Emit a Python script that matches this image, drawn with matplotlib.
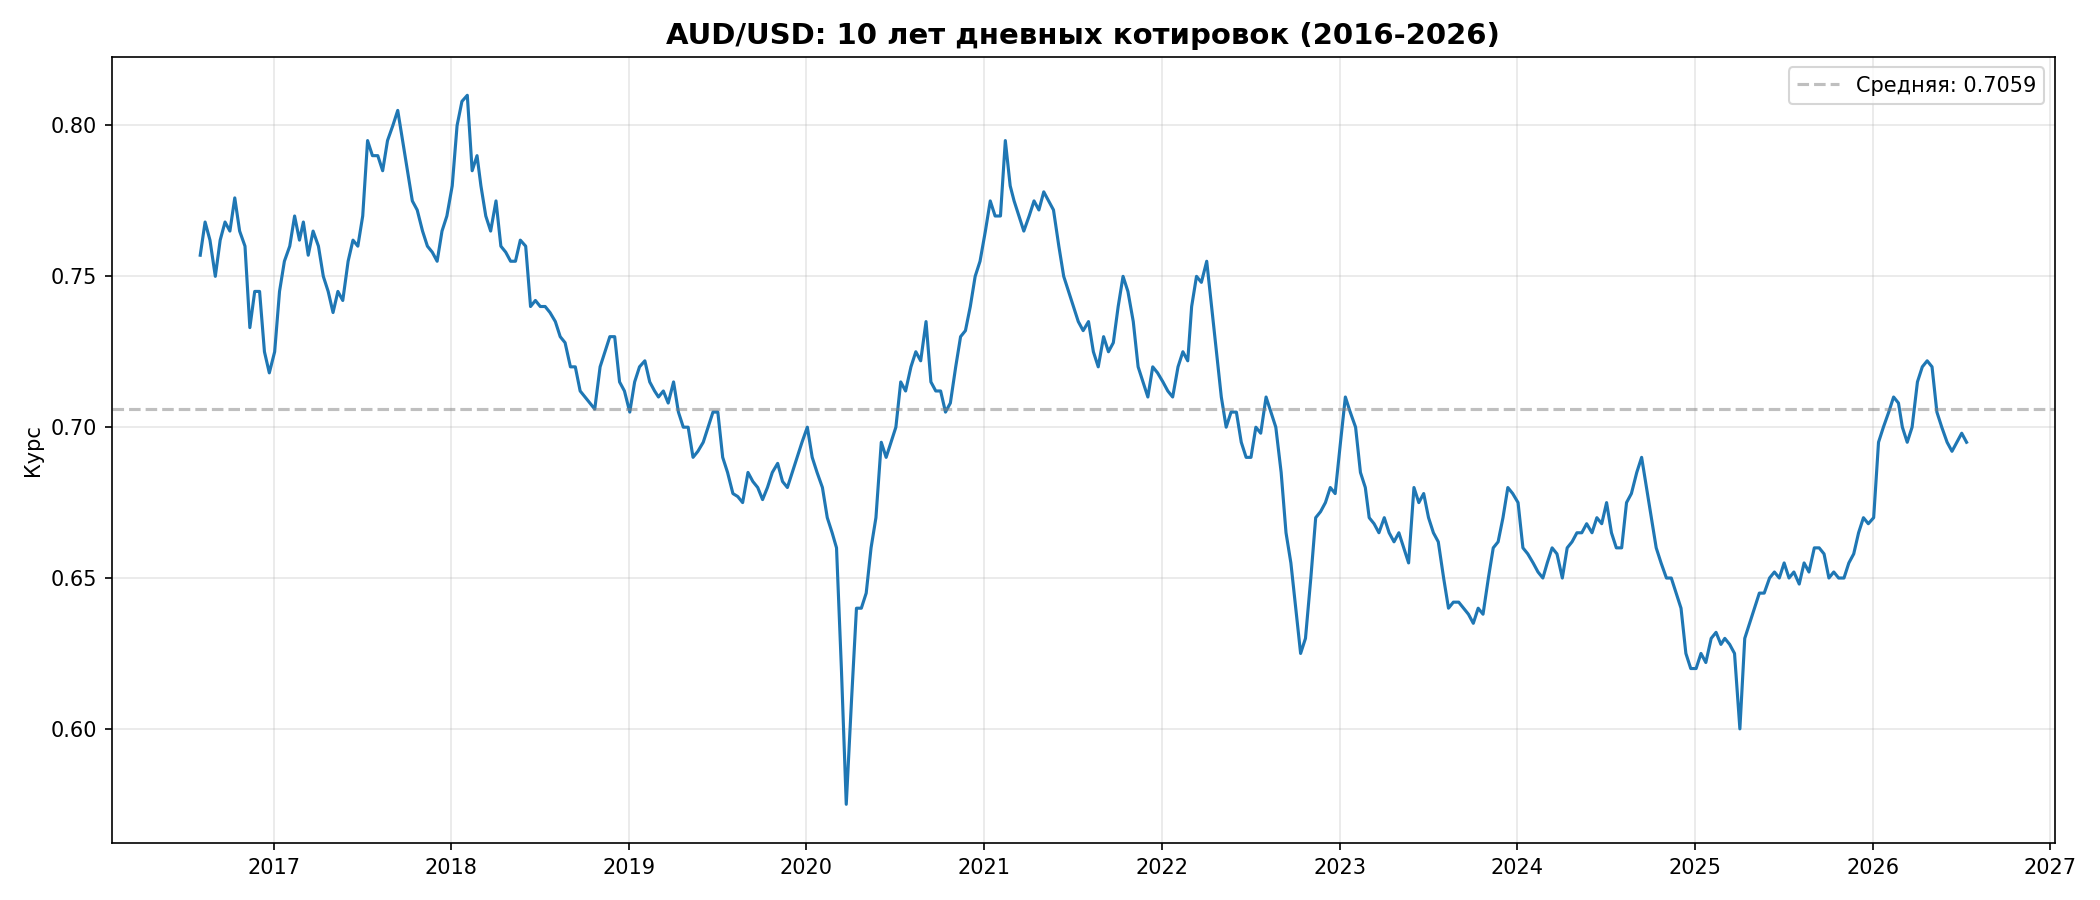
import matplotlib
matplotlib.use("Agg")
import matplotlib.pyplot as plt
import matplotlib.dates as mdates
import pandas as pd

months = ["2016-08","2016-09","2016-10","2016-11","2016-12",
          "2017-01","2017-02","2017-03","2017-04","2017-05","2017-06","2017-07","2017-08","2017-09","2017-10","2017-11","2017-12",
          "2018-01","2018-02","2018-03","2018-04","2018-05","2018-06","2018-07","2018-08","2018-09","2018-10","2018-11","2018-12",
          "2019-01","2019-02","2019-03","2019-04","2019-05","2019-06","2019-07","2019-08","2019-09","2019-10","2019-11","2019-12",
          "2020-01","2020-02","2020-03","2020-04","2020-05","2020-06","2020-07","2020-08","2020-09","2020-10","2020-11","2020-12",
          "2021-01","2021-02","2021-03","2021-04","2021-05","2021-06","2021-07","2021-08","2021-09","2021-10","2021-11","2021-12",
          "2022-01","2022-02","2022-03","2022-04","2022-05","2022-06","2022-07","2022-08","2022-09","2022-10","2022-11","2022-12",
          "2023-01","2023-02","2023-03","2023-04","2023-05","2023-06","2023-07","2023-08","2023-09","2023-10","2023-11","2023-12",
          "2024-01","2024-02","2024-03","2024-04","2024-05","2024-06","2024-07","2024-08","2024-09","2024-10","2024-11","2024-12",
          "2025-01","2025-02","2025-03","2025-04","2025-05","2025-06","2025-07","2025-08","2025-09","2025-10","2025-11","2025-12",
          "2026-01","2026-02","2026-03","2026-04","2026-05","2026-06","2026-07"]

# three readings per month (early, mid, late)
rates = [
    0.757,0.768,0.762, 0.750,0.762,0.768, 0.765,0.776,0.765, 0.760,0.733,0.745, 0.745,0.725,0.718,
    0.725,0.745,0.755, 0.760,0.770,0.762, 0.768,0.757,0.765, 0.760,0.750,0.745, 0.738,0.745,0.742, 0.755,0.762,0.760, 0.770,0.795,0.790, 0.790,0.785,0.795, 0.800,0.805,0.795, 0.785,0.775,0.772, 0.765,0.760,0.758, 0.755,0.765,0.770,
    0.780,0.800,0.808, 0.810,0.785,0.790, 0.780,0.770,0.765, 0.775,0.760,0.758, 0.755,0.755,0.762, 0.760,0.740,0.742, 0.740,0.740,0.738, 0.735,0.730,0.728, 0.720,0.720,0.712, 0.710,0.708,0.706, 0.720,0.725,0.730, 0.730,0.715,0.712,
    0.705,0.715,0.720, 0.722,0.715,0.712, 0.710,0.712,0.708, 0.715,0.705,0.700, 0.700,0.690,0.692, 0.695,0.700,0.705, 0.705,0.690,0.685, 0.678,0.677,0.675, 0.685,0.682,0.680, 0.676,0.680,0.685, 0.688,0.682,0.680, 0.685,0.690,0.695,
    0.700,0.690,0.685, 0.680,0.670,0.665, 0.660,0.620,0.575, 0.610,0.640,0.640, 0.645,0.660,0.670, 0.695,0.690,0.695, 0.700,0.715,0.712, 0.720,0.725,0.722, 0.735,0.715,0.712, 0.712,0.705,0.708, 0.720,0.730,0.732, 0.740,0.750,0.755,
    0.765,0.775,0.770, 0.770,0.795,0.780, 0.775,0.770,0.765, 0.770,0.775,0.772, 0.778,0.775,0.772, 0.760,0.750,0.745, 0.740,0.735,0.732, 0.735,0.725,0.720, 0.730,0.725,0.728, 0.740,0.750,0.745, 0.735,0.720,0.715, 0.710,0.720,0.718,
    0.715,0.712,0.710, 0.720,0.725,0.722, 0.740,0.750,0.748, 0.755,0.740,0.725, 0.710,0.700,0.705, 0.705,0.695,0.690, 0.690,0.700,0.698, 0.710,0.705,0.700, 0.685,0.665,0.655, 0.640,0.625,0.630, 0.650,0.670,0.672, 0.675,0.680,0.678,
    0.695,0.710,0.705, 0.700,0.685,0.680, 0.670,0.668,0.665, 0.670,0.665,0.662, 0.665,0.660,0.655, 0.680,0.675,0.678, 0.670,0.665,0.662, 0.650,0.640,0.642, 0.642,0.640,0.638, 0.635,0.640,0.638, 0.650,0.660,0.662, 0.670,0.680,0.678,
    0.675,0.660,0.658, 0.655,0.652,0.650, 0.655,0.660,0.658, 0.650,0.660,0.662, 0.665,0.665,0.668, 0.665,0.670,0.668, 0.675,0.665,0.660, 0.660,0.675,0.678, 0.685,0.690,0.680, 0.670,0.660,0.655, 0.650,0.650,0.645, 0.640,0.625,0.620,
    0.620,0.625,0.622, 0.630,0.632,0.628, 0.630,0.628,0.625, 0.600,0.630,0.635, 0.640,0.645,0.645, 0.650,0.652,0.650, 0.655,0.650,0.652, 0.648,0.655,0.652, 0.660,0.660,0.658, 0.650,0.652,0.650, 0.650,0.655,0.658, 0.665,0.670,0.668,
    0.670,0.695,0.700, 0.705,0.710,0.708, 0.700,0.695,0.700, 0.715,0.720,0.722, 0.720,0.705,0.700, 0.695,0.692,0.695, 0.698,0.695,
]
days = [3, 13, 23]
mean_rate = 0.7059

dates = pd.to_datetime([f"{m}-{d:02d}" for m in months for d in days])
n = min(len(dates), len(rates))
dates, vals = dates[:n], rates[:n]

fig, ax = plt.subplots(figsize=(14, 6), dpi=150)
ax.plot(dates, vals, color="#1f77b4", linewidth=1.5)
ax.axhline(mean_rate, color="gray", linestyle="--", alpha=0.5, label=f"Средняя: {mean_rate:.4f}")
ax.set_title("AUD/USD: 10 лет дневных котировок (2016-2026)", fontsize=14, fontweight="bold")
ax.set_ylabel("Курс")
ax.set_ylim(0.5622, 0.8227)
ax.xaxis.set_major_locator(mdates.YearLocator())
ax.xaxis.set_major_formatter(mdates.DateFormatter("%Y"))
ax.grid(True, alpha=0.3)
ax.legend(loc="upper right")
fig.tight_layout()
fig.savefig("out.png")
